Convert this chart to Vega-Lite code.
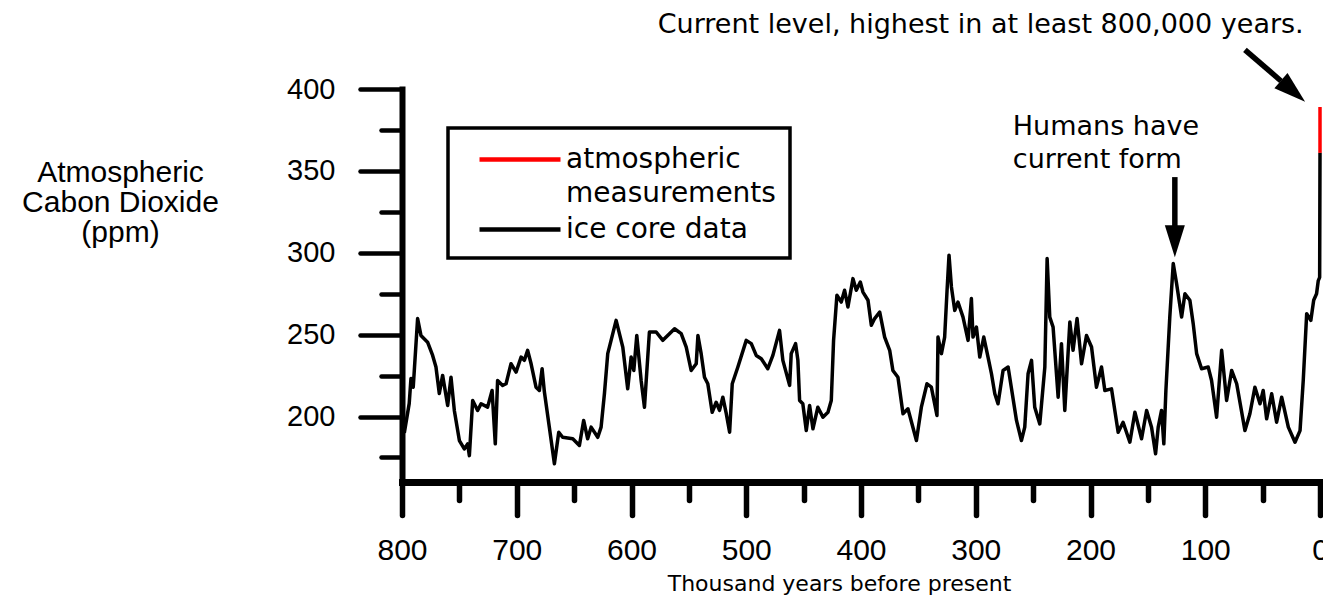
{
  "$schema": "https://vega.github.io/schema/vega-lite/v6.json",
  "width": 918,
  "height": 393,
  "autosize": {"type": "none"},
  "padding": {"left": 402, "top": 89, "right": 3, "bottom": 118},
  "background": "white",
  "config": {
    "view": {"stroke": null},
    "legend": {"strokeWidth": 3.5},
    "style": {"guide-label": {"lineHeight": 34}}
  },
  "datasets": {
    "co2": [
      {"year": 798, "co2": 190, "series": "ice core data"},
      {"year": 793.7, "co2": 208, "series": "ice core data"},
      {"year": 792.2, "co2": 223.2, "series": "ice core data"},
      {"year": 790.2, "co2": 217.9, "series": "ice core data"},
      {"year": 786.4, "co2": 259.8, "series": "ice core data"},
      {"year": 783.5, "co2": 249.5, "series": "ice core data"},
      {"year": 777.7, "co2": 245.4, "series": "ice core data"},
      {"year": 773.3, "co2": 237.3, "series": "ice core data"},
      {"year": 770.4, "co2": 230.2, "series": "ice core data"},
      {"year": 767.5, "co2": 214.1, "series": "ice core data"},
      {"year": 764.6, "co2": 225.1, "series": "ice core data"},
      {"year": 760.2, "co2": 206.7, "series": "ice core data"},
      {"year": 757.3, "co2": 224, "series": "ice core data"},
      {"year": 754.4, "co2": 203.7, "series": "ice core data"},
      {"year": 750, "co2": 185.3, "series": "ice core data"},
      {"year": 745.7, "co2": 180.2, "series": "ice core data"},
      {"year": 742.8, "co2": 183.3, "series": "ice core data"},
      {"year": 741.3, "co2": 176.1, "series": "ice core data"},
      {"year": 738.4, "co2": 209.8, "series": "ice core data"},
      {"year": 734.1, "co2": 203.7, "series": "ice core data"},
      {"year": 731.1, "co2": 207.8, "series": "ice core data"},
      {"year": 725.4, "co2": 205.7, "series": "ice core data"},
      {"year": 721.5, "co2": 215.9, "series": "ice core data"},
      {"year": 718.7, "co2": 183.3, "series": "ice core data"},
      {"year": 716.7, "co2": 222, "series": "ice core data"},
      {"year": 712.3, "co2": 219, "series": "ice core data"},
      {"year": 709.3, "co2": 220, "series": "ice core data"},
      {"year": 705, "co2": 232.2, "series": "ice core data"},
      {"year": 700.6, "co2": 227.1, "series": "ice core data"},
      {"year": 696.2, "co2": 236.3, "series": "ice core data"},
      {"year": 693.4, "co2": 234.3, "series": "ice core data"},
      {"year": 690.5, "co2": 240.4, "series": "ice core data"},
      {"year": 687.5, "co2": 232.2, "series": "ice core data"},
      {"year": 683.2, "co2": 217.9, "series": "ice core data"},
      {"year": 680.3, "co2": 215.9, "series": "ice core data"},
      {"year": 677.9, "co2": 229.2, "series": "ice core data"},
      {"year": 675.9, "co2": 214.9, "series": "ice core data"},
      {"year": 671.6, "co2": 193.5, "series": "ice core data"},
      {"year": 667.2, "co2": 171.1, "series": "ice core data"},
      {"year": 663.4, "co2": 190.4, "series": "ice core data"},
      {"year": 660, "co2": 187.3, "series": "ice core data"},
      {"year": 651.2, "co2": 186.4, "series": "ice core data"},
      {"year": 645.4, "co2": 182.3, "series": "ice core data"},
      {"year": 641.7, "co2": 197.6, "series": "ice core data"},
      {"year": 638.2, "co2": 186.4, "series": "ice core data"},
      {"year": 635.2, "co2": 193.5, "series": "ice core data"},
      {"year": 629.4, "co2": 187.3, "series": "ice core data"},
      {"year": 626.5, "co2": 193.5, "series": "ice core data"},
      {"year": 623.6, "co2": 213.9, "series": "ice core data"},
      {"year": 620.7, "co2": 238.4, "series": "ice core data"},
      {"year": 613.4, "co2": 258.7, "series": "ice core data"},
      {"year": 607.6, "co2": 242.4, "series": "ice core data"},
      {"year": 603.3, "co2": 216.9, "series": "ice core data"},
      {"year": 600.3, "co2": 236.3, "series": "ice core data"},
      {"year": 598, "co2": 228.1, "series": "ice core data"},
      {"year": 595.4, "co2": 249.5, "series": "ice core data"},
      {"year": 591.6, "co2": 222, "series": "ice core data"},
      {"year": 588.7, "co2": 205.7, "series": "ice core data"},
      {"year": 584.4, "co2": 251.6, "series": "ice core data"},
      {"year": 578.5, "co2": 251.6, "series": "ice core data"},
      {"year": 572.7, "co2": 246.5, "series": "ice core data"},
      {"year": 566.9, "co2": 250.6, "series": "ice core data"},
      {"year": 562.5, "co2": 253.6, "series": "ice core data"},
      {"year": 556.7, "co2": 250.6, "series": "ice core data"},
      {"year": 552.3, "co2": 242.4, "series": "ice core data"},
      {"year": 548, "co2": 228.1, "series": "ice core data"},
      {"year": 543.6, "co2": 232.2, "series": "ice core data"},
      {"year": 542.1, "co2": 249.5, "series": "ice core data"},
      {"year": 539.3, "co2": 238.4, "series": "ice core data"},
      {"year": 536.4, "co2": 224, "series": "ice core data"},
      {"year": 533.5, "co2": 220, "series": "ice core data"},
      {"year": 529.7, "co2": 202.6, "series": "ice core data"},
      {"year": 526.2, "co2": 208.7, "series": "ice core data"},
      {"year": 523.3, "co2": 203.7, "series": "ice core data"},
      {"year": 520.4, "co2": 211.8, "series": "ice core data"},
      {"year": 517.4, "co2": 201.7, "series": "ice core data"},
      {"year": 514.5, "co2": 190.4, "series": "ice core data"},
      {"year": 512.2, "co2": 220, "series": "ice core data"},
      {"year": 507.3, "co2": 230.2, "series": "ice core data"},
      {"year": 500, "co2": 246.5, "series": "ice core data"},
      {"year": 495.6, "co2": 244.5, "series": "ice core data"},
      {"year": 491.3, "co2": 237.3, "series": "ice core data"},
      {"year": 486.9, "co2": 235.3, "series": "ice core data"},
      {"year": 481.2, "co2": 229.2, "series": "ice core data"},
      {"year": 476.8, "co2": 237.3, "series": "ice core data"},
      {"year": 471, "co2": 252.6, "series": "ice core data"},
      {"year": 468.1, "co2": 234.3, "series": "ice core data"},
      {"year": 462.2, "co2": 219, "series": "ice core data"},
      {"year": 460.8, "co2": 238.4, "series": "ice core data"},
      {"year": 457, "co2": 244.5, "series": "ice core data"},
      {"year": 455, "co2": 234.3, "series": "ice core data"},
      {"year": 453.5, "co2": 209.8, "series": "ice core data"},
      {"year": 450.7, "co2": 207.8, "series": "ice core data"},
      {"year": 447.7, "co2": 191.4, "series": "ice core data"},
      {"year": 444.8, "co2": 206.7, "series": "ice core data"},
      {"year": 441.9, "co2": 192.5, "series": "ice core data"},
      {"year": 437.6, "co2": 205.7, "series": "ice core data"},
      {"year": 433.2, "co2": 199.6, "series": "ice core data"},
      {"year": 428.8, "co2": 202.6, "series": "ice core data"},
      {"year": 425.9, "co2": 209.8, "series": "ice core data"},
      {"year": 423.9, "co2": 246.5, "series": "ice core data"},
      {"year": 421, "co2": 274, "series": "ice core data"},
      {"year": 417.2, "co2": 269.9, "series": "ice core data"},
      {"year": 414.3, "co2": 277.1, "series": "ice core data"},
      {"year": 411.4, "co2": 266.9, "series": "ice core data"},
      {"year": 407, "co2": 284.2, "series": "ice core data"},
      {"year": 404.1, "co2": 277.1, "series": "ice core data"},
      {"year": 400.6, "co2": 282.1, "series": "ice core data"},
      {"year": 398.3, "co2": 276, "series": "ice core data"},
      {"year": 393.9, "co2": 271, "series": "ice core data"},
      {"year": 391, "co2": 255.7, "series": "ice core data"},
      {"year": 388.1, "co2": 259.8, "series": "ice core data"},
      {"year": 383.7, "co2": 263.8, "series": "ice core data"},
      {"year": 379.4, "co2": 248.5, "series": "ice core data"},
      {"year": 375, "co2": 240.4, "series": "ice core data"},
      {"year": 372.2, "co2": 228.1, "series": "ice core data"},
      {"year": 367.8, "co2": 224, "series": "ice core data"},
      {"year": 363.4, "co2": 201.7, "series": "ice core data"},
      {"year": 359.1, "co2": 204.7, "series": "ice core data"},
      {"year": 351.7, "co2": 185.3, "series": "ice core data"},
      {"year": 347.4, "co2": 205.7, "series": "ice core data"},
      {"year": 342.5, "co2": 220, "series": "ice core data"},
      {"year": 338.7, "co2": 217.9, "series": "ice core data"},
      {"year": 333.8, "co2": 200.6, "series": "ice core data"},
      {"year": 332.9, "co2": 248.5, "series": "ice core data"},
      {"year": 329.9, "co2": 238.4, "series": "ice core data"},
      {"year": 327.1, "co2": 248.5, "series": "ice core data"},
      {"year": 325, "co2": 277.1, "series": "ice core data"},
      {"year": 323.3, "co2": 298.5, "series": "ice core data"},
      {"year": 321.2, "co2": 279.1, "series": "ice core data"},
      {"year": 318.3, "co2": 264.8, "series": "ice core data"},
      {"year": 315.5, "co2": 269.9, "series": "ice core data"},
      {"year": 311.1, "co2": 260.7, "series": "ice core data"},
      {"year": 306.7, "co2": 246.5, "series": "ice core data"},
      {"year": 303.8, "co2": 272, "series": "ice core data"},
      {"year": 302.4, "co2": 248.5, "series": "ice core data"},
      {"year": 299.4, "co2": 254.6, "series": "ice core data"},
      {"year": 296.5, "co2": 236.3, "series": "ice core data"},
      {"year": 293, "co2": 248.5, "series": "ice core data"},
      {"year": 289.3, "co2": 236.3, "series": "ice core data"},
      {"year": 286.3, "co2": 226.1, "series": "ice core data"},
      {"year": 283.4, "co2": 213.9, "series": "ice core data"},
      {"year": 280.6, "co2": 207.8, "series": "ice core data"},
      {"year": 276.2, "co2": 228.1, "series": "ice core data"},
      {"year": 271.8, "co2": 230.2, "series": "ice core data"},
      {"year": 264.5, "co2": 197.6, "series": "ice core data"},
      {"year": 260.2, "co2": 185.3, "series": "ice core data"},
      {"year": 257.3, "co2": 193.5, "series": "ice core data"},
      {"year": 254.4, "co2": 226.1, "series": "ice core data"},
      {"year": 251.4, "co2": 234.3, "series": "ice core data"},
      {"year": 248.6, "co2": 205.7, "series": "ice core data"},
      {"year": 244.2, "co2": 195.5, "series": "ice core data"},
      {"year": 239.8, "co2": 230.2, "series": "ice core data"},
      {"year": 237.8, "co2": 296.5, "series": "ice core data"},
      {"year": 235.5, "co2": 260.7, "series": "ice core data"},
      {"year": 232.6, "co2": 254.6, "series": "ice core data"},
      {"year": 228.2, "co2": 211.8, "series": "ice core data"},
      {"year": 225.3, "co2": 244.5, "series": "ice core data"},
      {"year": 222.4, "co2": 203.7, "series": "ice core data"},
      {"year": 218, "co2": 257.7, "series": "ice core data"},
      {"year": 215.2, "co2": 240.4, "series": "ice core data"},
      {"year": 211.7, "co2": 259.8, "series": "ice core data"},
      {"year": 207.8, "co2": 232.2, "series": "ice core data"},
      {"year": 203.5, "co2": 249.5, "series": "ice core data"},
      {"year": 199.1, "co2": 242.4, "series": "ice core data"},
      {"year": 194.8, "co2": 217.9, "series": "ice core data"},
      {"year": 190.4, "co2": 230.2, "series": "ice core data"},
      {"year": 187.5, "co2": 215.9, "series": "ice core data"},
      {"year": 181.7, "co2": 216.9, "series": "ice core data"},
      {"year": 175.9, "co2": 190.4, "series": "ice core data"},
      {"year": 171.6, "co2": 196.5, "series": "ice core data"},
      {"year": 165.7, "co2": 184.3, "series": "ice core data"},
      {"year": 161.3, "co2": 202.6, "series": "ice core data"},
      {"year": 155.5, "co2": 186.4, "series": "ice core data"},
      {"year": 151.1, "co2": 203.7, "series": "ice core data"},
      {"year": 146.8, "co2": 193.5, "series": "ice core data"},
      {"year": 143.3, "co2": 177.2, "series": "ice core data"},
      {"year": 141, "co2": 193.5, "series": "ice core data"},
      {"year": 138.1, "co2": 203.7, "series": "ice core data"},
      {"year": 136.1, "co2": 183.3, "series": "ice core data"},
      {"year": 134.3, "co2": 215.9, "series": "ice core data"},
      {"year": 130.9, "co2": 260.7, "series": "ice core data"},
      {"year": 127.9, "co2": 293.4, "series": "ice core data"},
      {"year": 125, "co2": 281.2, "series": "ice core data"},
      {"year": 120.6, "co2": 260.7, "series": "ice core data"},
      {"year": 117.7, "co2": 275, "series": "ice core data"},
      {"year": 113.4, "co2": 271, "series": "ice core data"},
      {"year": 110.5, "co2": 256.7, "series": "ice core data"},
      {"year": 107.5, "co2": 238.4, "series": "ice core data"},
      {"year": 103.2, "co2": 229.2, "series": "ice core data"},
      {"year": 97.4, "co2": 230.2, "series": "ice core data"},
      {"year": 94.5, "co2": 222, "series": "ice core data"},
      {"year": 90.1, "co2": 199.6, "series": "ice core data"},
      {"year": 85.7, "co2": 240.4, "series": "ice core data"},
      {"year": 81.4, "co2": 209.8, "series": "ice core data"},
      {"year": 77, "co2": 228.1, "series": "ice core data"},
      {"year": 72.6, "co2": 220, "series": "ice core data"},
      {"year": 65.4, "co2": 191.4, "series": "ice core data"},
      {"year": 61.1, "co2": 201.7, "series": "ice core data"},
      {"year": 56.7, "co2": 217.9, "series": "ice core data"},
      {"year": 52.3, "co2": 207.8, "series": "ice core data"},
      {"year": 49.5, "co2": 215.9, "series": "ice core data"},
      {"year": 46.5, "co2": 198.6, "series": "ice core data"},
      {"year": 42.1, "co2": 213.9, "series": "ice core data"},
      {"year": 37.8, "co2": 196.5, "series": "ice core data"},
      {"year": 33.4, "co2": 211.8, "series": "ice core data"},
      {"year": 27.6, "co2": 193.5, "series": "ice core data"},
      {"year": 21.8, "co2": 184.3, "series": "ice core data"},
      {"year": 17.4, "co2": 191.4, "series": "ice core data"},
      {"year": 14.6, "co2": 222, "series": "ice core data"},
      {"year": 11.6, "co2": 262.8, "series": "ice core data"},
      {"year": 8, "co2": 258.7, "series": "ice core data"},
      {"year": 5.5, "co2": 271, "series": "ice core data"},
      {"year": 3, "co2": 275, "series": "ice core data"},
      {"year": 1.5, "co2": 283, "series": "ice core data"},
      {"year": 0.3, "co2": 285, "series": "ice core data"},
      {"year": 0, "co2": 361, "series": "ice core data"},
      {"year": 0, "co2": 361, "series": "atmospheric measurements"},
      {"year": 0, "co2": 389, "series": "atmospheric measurements"}
    ],
    "shafts": [
      {"x": 126.5, "x2": 126.5, "y": 346.2, "y2": 316.2},
      {"x": 65.4, "x2": 34.0, "y": 423.9, "y2": 404.9}
    ],
    "headDown": [
      {"x": 126.5, "y": 307.0}
    ],
    "headDiag": [
      {"x": 23.5, "y": 398.7}
    ],
    "topNote": [
      {"x": 295.7, "y": 439.1, "text": "Current level, highest in at least 800,000 years."}
    ],
    "humanNote": [
      {"x": 267.7, "y": 376.8, "text": "Humans have"},
      {"x": 267.7, "y": 356.6, "text": "current form"}
    ]
  },
  "layer": [
    {
      "data": {"name": "co2"},
      "mark": {"type": "line", "strokeWidth": 3.5, "strokeJoin": "round", "clip": false},
      "encoding": {
        "x": {
          "field": "year", "type": "quantitative",
          "title": "Thousand years before present",
          "scale": {"domain": [0, 800], "reverse": true, "nice": false, "zero": false},
          "axis": {
            "values": [0, 50, 100, 150, 200, 250, 300, 350, 400, 450, 500, 550, 600, 650, 700, 750, 800],
            "labelExpr": "datum.value % 100 === 0 ? datum.label : ''",
            "tickSize": {"condition": {"test": "datum.value % 100 === 0", "value": 33}, "value": 18},
            "tickWidth": 5.5, "tickColor": "black", "tickCap": "round",
            "domainColor": "black", "domainWidth": 7, "domainCap": "square",
            "grid": false, "labelFlush": false, "labelOverlap": false,
            "labelFont": "Liberation Sans", "labelFontSize": 30, "labelColor": "black", "labelPadding": 20,
            "titleFont": "DejaVu Sans", "titleFontSize": 22, "titleFontWeight": "normal", "titleColor": "black",
            "titleX": 437, "titleY": 101, "titleBaseline": "middle", "titleAlign": "center"
          }
        },
        "y": {
          "field": "co2", "type": "quantitative",
          "title": ["Atmospheric", "Cabon Dioxide", "(ppm)"],
          "scale": {"domain": [160, 400], "nice": false, "zero": false},
          "axis": {
            "values": [175, 200, 225, 250, 275, 300, 325, 350, 375, 400],
            "labelExpr": "datum.value % 50 === 0 ? datum.label : ''",
            "tickSize": {"condition": {"test": "datum.value % 50 === 0", "value": 42}, "value": 21},
            "tickWidth": 4.5, "tickColor": "black", "tickCap": "round",
            "domainColor": "black", "domainWidth": 6, "domainCap": "square",
            "grid": false, "labelFlush": false, "labelOverlap": false,
            "labelFont": "Liberation Sans", "labelFontSize": 29, "labelColor": "black", "labelPadding": 25,
            "titleFont": "Liberation Sans", "titleFontSize": 30, "titleFontWeight": "normal", "titleColor": "black",
            "titleLineHeight": 30, "titleAngle": 0, "titleAlign": "center", "titleBaseline": "top",
            "titleX": -282, "titleY": 68
          }
        },
        "color": {
          "field": "series", "type": "nominal",
          "scale": {"domain": ["atmospheric measurements", "ice core data"], "range": ["#ff0000", "#000000"]},
          "legend": {
            "orient": "none", "legendX": 46, "legendY": 39, "title": null,
            "symbolType": "M-2.7,0H2.7", "symbolSize": 900, "symbolStrokeWidth": 4.5,
            "symbolOffset": 40.5, "labelOffset": 28.5,
            "labelFont": "DejaVu Sans", "labelFontSize": 28, "labelColor": "black", "labelLimit": 500,
            "labelExpr": "datum.label == 'atmospheric measurements' ? ['atmospheric', 'measurements'] : datum.label",
            "strokeColor": "black", "padding": 14, "rowPadding": 4
          }
        }
      }
    },
    {
      "data": {"name": "shafts"},
      "mark": {"type": "rule", "strokeWidth": 5.5, "color": "black", "clip": false},
      "encoding": {
        "x": {"field": "x", "type": "quantitative", "title": "Thousand years before present"},
        "x2": {"field": "x2"},
        "y": {"field": "y", "type": "quantitative", "title": ["Atmospheric", "Cabon Dioxide", "(ppm)"]},
        "y2": {"field": "y2"}
      }
    },
    {
      "data": {"name": "headDown"},
      "mark": {"type": "point", "shape": "M-0.625,-1L0.625,-1L0,1Z", "filled": true, "color": "black", "opacity": 1, "size": 1024, "clip": false},
      "encoding": {
        "x": {"field": "x", "type": "quantitative", "title": "Thousand years before present"},
        "y": {"field": "y", "type": "quantitative", "title": ["Atmospheric", "Cabon Dioxide", "(ppm)"]}
      }
    },
    {
      "data": {"name": "headDiag"},
      "mark": {"type": "point", "shape": "M-0.625,-1L0.625,-1L0,1Z", "filled": true, "color": "black", "opacity": 1, "size": 1024, "angle": 311, "clip": false},
      "encoding": {
        "x": {"field": "x", "type": "quantitative", "title": "Thousand years before present"},
        "y": {"field": "y", "type": "quantitative", "title": ["Atmospheric", "Cabon Dioxide", "(ppm)"]}
      }
    },
    {
      "data": {"name": "topNote"},
      "mark": {"type": "text", "font": "DejaVu Sans", "fontSize": 27, "align": "center", "baseline": "middle", "color": "black", "clip": false},
      "encoding": {
        "x": {"field": "x", "type": "quantitative", "title": "Thousand years before present"},
        "y": {"field": "y", "type": "quantitative", "title": ["Atmospheric", "Cabon Dioxide", "(ppm)"]},
        "text": {"field": "text"}
      }
    },
    {
      "data": {"name": "humanNote"},
      "mark": {"type": "text", "font": "DejaVu Sans", "fontSize": 27, "align": "left", "baseline": "middle", "color": "black", "clip": false},
      "encoding": {
        "x": {"field": "x", "type": "quantitative", "title": "Thousand years before present"},
        "y": {"field": "y", "type": "quantitative", "title": ["Atmospheric", "Cabon Dioxide", "(ppm)"]},
        "text": {"field": "text"}
      }
    }
  ]
}
